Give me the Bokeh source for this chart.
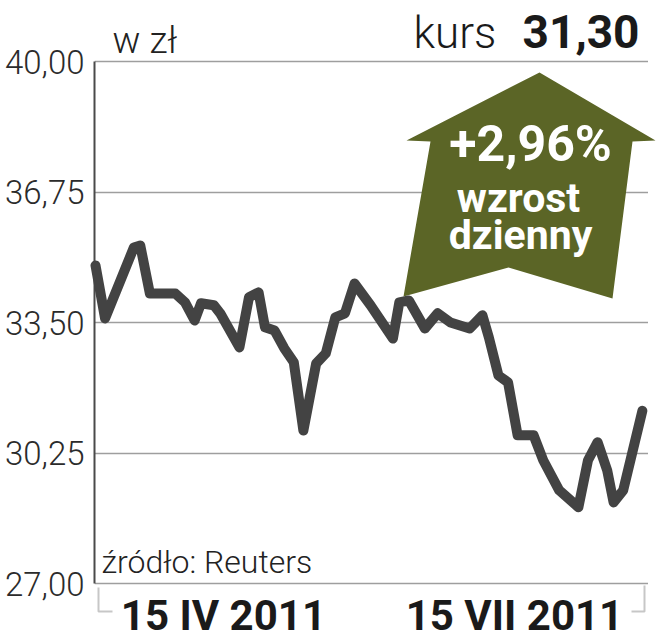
import pandas as pd
from bokeh.plotting import figure
from bokeh.models import Range1d, FixedTicker, Label, PolyAnnotation, BoxAnnotation
from bokeh.embed import file_html
from bokeh.resources import INLINE

# ---- data ----
dates = ["2011-03-06", "2011-03-09", "2011-03-18", "2011-03-20", "2011-03-23", "2011-03-31",
         "2011-04-03", "2011-04-06", "2011-04-08", "2011-04-12", "2011-04-14", "2011-04-20",
         "2011-04-23", "2011-04-26", "2011-04-28", "2011-05-01", "2011-05-04", "2011-05-07",
         "2011-05-10", "2011-05-14", "2011-05-17", "2011-05-20", "2011-05-23", "2011-05-26",
         "2011-05-31", "2011-06-07", "2011-06-09", "2011-06-12", "2011-06-17", "2011-06-21",
         "2011-06-25", "2011-07-01", "2011-07-05", "2011-07-07", "2011-07-10", "2011-07-13",
         "2011-07-16", "2011-07-21", "2011-07-24", "2011-07-29", "2011-08-04", "2011-08-07",
         "2011-08-10", "2011-08-13", "2011-08-15", "2011-08-18", "2011-08-24"]
prices = [34.92, 33.60, 35.37, 35.42, 34.22, 34.22,
          34.00, 33.55, 33.98, 33.93, 33.73, 32.88,
          34.13, 34.25, 33.38, 33.30, 32.86, 32.51,
          30.81, 32.48, 32.73, 33.63, 33.73, 34.47,
          33.93, 33.10, 34.00, 34.05, 33.35, 33.73,
          33.50, 33.35, 33.68, 33.13, 32.18, 32.01,
          30.69, 30.69, 30.07, 29.32, 28.90, 30.07,
          30.52, 29.82, 29.02, 29.32, 31.30]
y_ticks = [27.0, 30.25, 33.5, 36.75, 40.0]
y_tick_labels = ["27,00", "30,25", "33,50", "36,75", "40,00"]
x_tick_dates = ["2011-04-15", "2011-07-15"]
x_tick_labels = ["15 IV 2011", "15 VII 2011"]
daily_change = "+2,96%"
unit_label = "w zł"
source_label = "źródło: Reuters"

LIGHT = "Roboto Light"
BOLD = "Roboto"

W, H = 656, 640
FL, FR, FT, FB = 94, W, 0, H          # frame in page pixels
PX_PER_DAY = 3.198
DAY = 86400000.0


def ms(s):
    return pd.Timestamp(s).value / 1e6


X0 = ms("2011-03-06") - (95 - FL) / PX_PER_DAY * DAY
X1 = X0 + (FR - FL) / PX_PER_DAY * DAY
PX_PER_UNIT = (583 - 61) / 13.0
Y1 = 40 + (61 - FT) / PX_PER_UNIT
Y0 = 27 - (FB - 583) / PX_PER_UNIT


def px(x):
    return X0 + (x - FL) / (FR - FL) * (X1 - X0)


def py(y):
    return Y1 - (y - FT) / (FB - FT) * (Y1 - Y0)


def label(text, x, baseline, size, font=LIGHT, bold=False, align="left", color="#1a1a1a"):
    # text is placed by the middle of its font box: shift from the wanted baseline
    return Label(x=x, y=py(baseline - 0.34 * size), text=text, text_font=font,
                 text_font_style="bold" if bold else "normal", text_align=align,
                 text_baseline="middle", text_font_size=f"{size}px", text_color=color)


p = figure(width=W, height=H, output_backend="svg", toolbar_location=None,
           x_range=Range1d(X0, X1), y_range=Range1d(Y0, Y1),
           x_axis_location=None,
           min_border_left=FL, min_border_right=0, min_border_top=0, min_border_bottom=0)
p.outline_line_color = None
p.background_fill_color = "white"
p.border_fill_color = "white"
p.xgrid.visible = False

# y axis
p.yaxis.ticker = FixedTicker(ticks=y_ticks)
p.yaxis.major_label_overrides = dict(zip(y_ticks, y_tick_labels))
p.yaxis.bounds = (y_ticks[0], y_ticks[-1])
p.yaxis.axis_line_color = "#4a4a4a"
p.yaxis.axis_line_width = 2
p.yaxis.major_tick_out = 0
p.yaxis.major_tick_in = 0
p.yaxis.minor_tick_out = 0
p.yaxis.minor_tick_in = 0
p.yaxis.major_label_standoff = 10
p.yaxis.major_label_text_font = LIGHT
p.yaxis.major_label_text_font_size = "33px"
p.yaxis.major_label_text_color = "#2b2b2b"
p.ygrid.grid_line_color = "#9e9e9e"
p.ygrid.grid_line_width = 1.6

# gridlines end at x=646 in the reference: white mask on the far right
for top, bottom in [(0, 66), (150, H)]:
    p.add_layout(BoxAnnotation(left=px(647.5), right=px(W + 2), top=py(top), bottom=py(bottom),
                               fill_color="white", fill_alpha=1, line_color=None,
                               level="underlay"))

# arrow (decoration)
arrow_x = [539, 655, 632, 612, 508, 403, 430, 406]
arrow_y = [72, 140, 141, 298, 267, 296, 141, 140]
p.add_layout(PolyAnnotation(xs=[px(v) for v in arrow_x], ys=[py(v) for v in arrow_y],
                            fill_color="#5b6526", fill_alpha=1.0, line_color=None))

# price line
r = p.line(x=pd.to_datetime(dates), y=prices, line_width=10, line_color="#434343",
           line_join="round", line_cap="round")
r.level = "overlay"

# bracket at the bottom (decoration)
for bx, by in [([98, 98, 112, 98], [587, 611, 611, 611]),
               ([644, 644, 631, 644], [585, 611, 611, 611])]:
    p.add_layout(PolyAnnotation(xs=[px(v) for v in bx], ys=[py(v) for v in by],
                                fill_alpha=0, line_color="#444444", line_width=2))

# date labels
for d, lab in zip(x_tick_dates, x_tick_labels):
    p.add_layout(label(lab, ms(d), 629, 42, font=BOLD, bold=True, align="center"))

# top texts
p.add_layout(label(unit_label, px(112), 53, 37, color="#222222"))
p.add_layout(label("kurs", px(413), 47, 44))
p.add_layout(label(f"{prices[-1]:.2f}".replace(".", ","), px(639), 47, 46,
                   font=BOLD, bold=True, align="right"))

# arrow texts
for txt, cx, base, size in [(daily_change, 530, 160, 50), ("wzrost", 518, 211, 41),
                            ("dzienny", 520, 248, 41)]:
    p.add_layout(label(txt, px(cx), base, size, font=BOLD, bold=True, align="center",
                       color="white"))

# source
p.add_layout(label(source_label, px(101), 572, 32, color="#222222"))

open("out.html", "w").write(file_html(p, INLINE))
